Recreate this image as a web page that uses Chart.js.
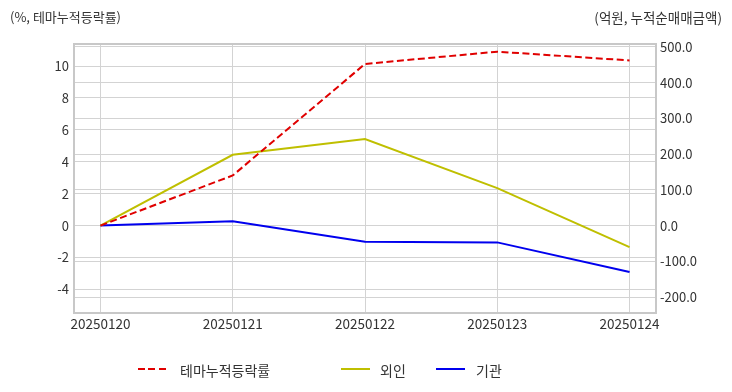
<!DOCTYPE html>
<html><head><meta charset="utf-8">
<script src="https://cdn.jsdelivr.net/npm/chart.js@4/dist/chart.umd.min.js"></script>
<style>
html,body{margin:0;padding:0;background:#fff;}
#wrap{position:relative;width:732px;height:392px;font-family:"Noto Sans CJK KR","Noto Sans",sans-serif;color:#333;}
canvas{position:absolute;left:0;top:0;}
.ttl{position:absolute;top:7px;font-size:13px;color:#333;white-space:nowrap;}
.leg{position:absolute;top:360px;font-size:14px;color:#333;white-space:nowrap;}
.sw{position:absolute;top:368px;height:2px;}
</style></head>
<body><div id="wrap">
<canvas id="c" width="732" height="392"></canvas>
<div class="ttl" style="left:10px">(%, 테마누적등락률)</div>
<div class="ttl" style="right:10px;font-size:13.5px">(억원, 누적순매매금액)</div>
<div class="sw" style="left:138px;width:28px;background:repeating-linear-gradient(90deg,#e00000 0 7px,transparent 7px 10.5px);"></div>
<div class="leg" style="left:180px">테마누적등락률</div>
<div class="sw" style="left:341px;width:29px;background:#bfbf00;"></div>
<div class="leg" style="left:380px">외인</div>
<div class="sw" style="left:436px;width:29px;background:#0000ee;"></div>
<div class="leg" style="left:476px">기관</div>
</div>
<script>
const categories = ["20250120","20250121","20250122","20250123","20250124"];
const themeRate = [0, 3.14, 10.13, 10.9, 10.35];
const foreign = [0, 198, 242, 105, -60];
const institution = [0, 12, -45, -47, -130];
const leftTicks = [-4,-2,0,2,4,6,8,10];
const rightTicks = [-200,-100,0,100,200,300,400,500];

const pts = arr => arr.map((v,i)=>({x:i,y:v}));
const gridColor = '#d3d3d3';
const fam = '"Noto Sans CJK KR","Noto Sans",sans-serif';
const yFont = {family:fam, size:13};
const xFont = {family:fam, size:13.5};

new Chart(document.getElementById('c'), {
  type:'line',
  data:{datasets:[
    {label:'테마누적등락률', data:pts(themeRate), yAxisID:'yL', borderColor:'#e00000', borderWidth:2, borderDash:[7,3.5], pointRadius:0, tension:0},
    {label:'외인', data:pts(foreign), yAxisID:'yR', borderColor:'#bfbf00', borderWidth:2, pointRadius:0, tension:0},
    {label:'기관', data:pts(institution), yAxisID:'yR', borderColor:'#0000ee', borderWidth:2, pointRadius:0, tension:0}
  ]},
  options:{
    responsive:false, animation:false,
    layout:{padding:{left:0,right:0,top:44,bottom:0}},
    plugins:{legend:{display:false}, tooltip:{enabled:false}},
    scales:{
      x:{type:'linear', min:-0.2, max:4.2,
        afterBuildTicks:s=>{s.ticks=categories.map((_,i)=>({value:i}));},
        afterFit:s=>{s.height=79;},
        ticks:{callback:v=>categories[v], color:'#333', font:xFont, padding:3, maxRotation:0},
        grid:{color:gridColor, drawTicks:false},
        border:{color:'#c8c8c8', width:2}
      },
      yL:{type:'linear', position:'left', min:-5.48, max:11.38,
        afterBuildTicks:s=>{s.ticks=leftTicks.map(v=>({value:v}));},
        afterFit:s=>{s.width=74;},
        ticks:{color:'#333', font:yFont, padding:5},
        grid:{color:gridColor, drawTicks:false},
        border:{color:'#c8c8c8', width:2}
      },
      yR:{type:'linear', position:'right', min:-244.5, max:508,
        afterBuildTicks:s=>{s.ticks=rightTicks.map(v=>({value:v}));},
        afterFit:s=>{s.width=76;},
        ticks:{color:'#333', font:yFont, padding:4, callback:v=>v.toFixed(1)},
        grid:{color:gridColor, drawTicks:false},
        border:{color:'#c8c8c8', width:2}
      }
    }
  },
  plugins:[{id:'topBorder', afterDraw(ch){const a=ch.chartArea,c=ch.ctx;c.save();c.strokeStyle='#c8c8c8';c.lineWidth=2;c.beginPath();c.moveTo(a.left,a.top);c.lineTo(a.right,a.top);c.stroke();c.restore();}}]
});
</script>
</body></html>
